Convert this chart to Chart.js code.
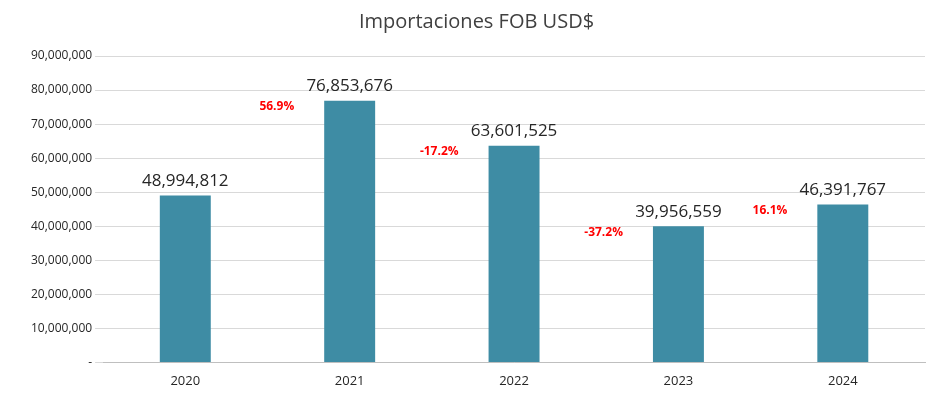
<!DOCTYPE html>
<html>
<head>
<meta charset="utf-8">
<script src="https://cdn.jsdelivr.net/npm/chart.js@4"></script>
<style>
  html, body { margin: 0; padding: 0; background: #fff; }
  #wrap { width: 945px; height: 408px; }
</style>
</head>
<body>
<div id="wrap"><canvas id="chart"></canvas></div>
<script>
// datos
const years = ['2020', '2021', '2022', '2023', '2024'];
const imports = [48994812, 76853676, 63601525, 39956559, 46391767];
const changes = [null, '56.9%', '-17.2%', '-37.2%', '16.1%'];

const fmt = v => v.toLocaleString('en-US');

// etiquetas de valor y variación
const labelPlugin = {
    id: 'labels',
    afterDatasetsDraw(chart) {
        const ctx = chart.ctx;
        const meta = chart.getDatasetMeta(0);
        ctx.save();
        meta.data.forEach((bar, i) => {
            ctx.fillStyle = '#262626';
            ctx.font = '17px "Open Sans", sans-serif';
            ctx.textAlign = 'center';
            ctx.textBaseline = 'bottom';
            ctx.fillText(fmt(imports[i]), bar.x, bar.y - 6);
            if (changes[i]) {
                ctx.fillStyle = '#ff0000';
                ctx.font = 'bold 12px "Open Sans", sans-serif';
                ctx.textAlign = 'right';
                ctx.textBaseline = 'middle';
                ctx.fillText(changes[i], bar.x - bar.width / 2 - 30, bar.y + 6);
            }
        });
        ctx.restore();
    }
};

new Chart(document.getElementById('chart'), {
    type: 'bar',
    data: {
        labels: years,
        datasets: [{
            data: imports,
            backgroundColor: '#3e8ca4',
            barPercentage: 0.62,
            categoryPercentage: 0.5
        }]
    },
    options: {
        responsive: true,
        maintainAspectRatio: false,
        animation: false,
        layout: { padding: { left: 28, right: 20, top: 6, bottom: 16 } },
        plugins: {
            legend: { display: false },
            tooltip: { enabled: false },
            title: {
                display: true,
                text: 'Importaciones FOB USD$',
                color: '#404040',
                font: { family: '"Open Sans", sans-serif', size: 20, weight: 'normal' },
                padding: { top: 4, bottom: 22 }
            }
        },
        scales: {
            x: {
                grid: { display: false },
                border: { color: '#bfbfbf' },
                ticks: { color: '#262626', font: { family: '"Open Sans", sans-serif', size: 13 } }
            },
            y: {
                min: 0,
                max: 90000000,
                ticks: {
                    stepSize: 10000000,
                    color: '#262626',
                    font: { family: '"Open Sans", sans-serif', size: 12 },
                    callback: v => v === 0 ? '-' : fmt(v)
                },
                grid: { color: '#d9d9d9' },
                border: { display: false }
            }
        }
    },
    plugins: [labelPlugin]
});
</script>
</body>
</html>
